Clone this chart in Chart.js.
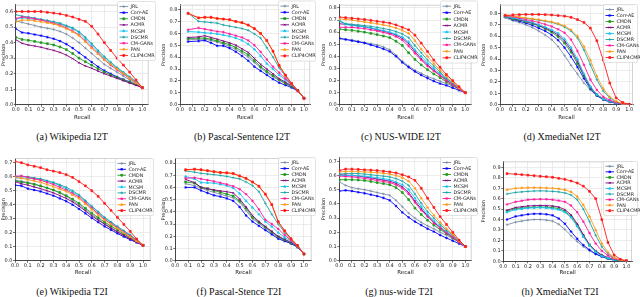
<!DOCTYPE html>
<html>
<head>
<meta charset="utf-8">
<script src="https://cdn.jsdelivr.net/npm/chart.js@4.4.0/dist/chart.umd.min.js"></script>
<style>
  html, body { margin: 0; padding: 0; background: #fff; }
  #wrap { position: relative; width: 640px; height: 297px; overflow: hidden; }
  canvas { position: absolute; }
  .cap { position: absolute; font: 10px "Liberation Serif", "DejaVu Serif", serif; line-height: 10px; color: #111;
         white-space: nowrap; transform: translate(-50%, -50%); }
</style>
</head>
<body>
<div id="wrap"></div>
<script>
// methods, in legend order
const methods = ['JRL', 'Corr-AE', 'CMDN', 'ACMR', 'MCSM', 'DSCMR', 'CM-GANs', 'PAN', 'CLIP4CMR'];
const colors = ['#7b8ca3', '#0000ff', '#1f9a1f', '#800080', '#18c5f0', '#1aa5a5', '#ff1a9c', '#ff9a1a', '#ff1a1a'];
const markers = ['cross', 'star', 'rect', 'crossRot', 'triangle', 'cross', 'star', 'triangle', 'rect'];

const xTicks = [0, 0.1, 0.2, 0.3, 0.4, 0.5, 0.6, 0.7, 0.8, 0.9, 1.0];
const yTicks6 = [0, 0.1, 0.2, 0.3, 0.4, 0.5, 0.6];
const yTicks7 = [0, 0.1, 0.2, 0.3, 0.4, 0.5, 0.6, 0.7];
const yTicks8 = [0, 0.1, 0.2, 0.3, 0.4, 0.5, 0.6, 0.7, 0.8];
const yTicks9 = [0, 0.1, 0.2, 0.3, 0.4, 0.5, 0.6, 0.7, 0.8, 0.9];

// recall points
const recallFull = [0, 0.05, 0.1, 0.15, 0.2, 0.25, 0.3, 0.35, 0.4, 0.45, 0.5, 0.55, 0.6, 0.65, 0.7, 0.75, 0.8, 0.85, 0.9, 0.95, 1.0];
const recallPascalI2T = [0.065, 0.15, 0.2, 0.25, 0.3, 0.35, 0.4, 0.45, 0.5, 0.55, 0.6, 0.65, 0.7, 0.75, 0.8, 0.85, 0.9, 0.95, 1.0];
const recallPascalT2I = [0.08, 0.15, 0.2, 0.25, 0.3, 0.35, 0.4, 0.45, 0.5, 0.55, 0.6, 0.65, 0.7, 0.75, 0.8, 0.85, 0.9, 0.95, 1.0];
const recallXmediaI2T = [0.04, 0.1, 0.15, 0.2, 0.25, 0.3, 0.35, 0.4, 0.45, 0.5, 0.55, 0.6, 0.65, 0.7, 0.75, 0.8, 0.85, 0.9, 0.95, 1.0];
const recallXmediaT2I = [0.03, 0.1, 0.15, 0.2, 0.25, 0.3, 0.35, 0.4, 0.45, 0.5, 0.55, 0.6, 0.65, 0.7, 0.75, 0.8, 0.85, 0.9, 0.95, 1.0];

// precision per method (same order as methods)
const wikiI2T = [
  [0.54,0.53,0.52,0.51,0.50,0.492,0.485,0.472,0.455,0.43,0.40,0.365,0.33,0.295,0.26,0.235,0.21,0.185,0.16,0.135,0.11],
  [0.49,0.465,0.46,0.452,0.445,0.435,0.425,0.41,0.39,0.365,0.335,0.305,0.275,0.245,0.22,0.20,0.18,0.163,0.147,0.13,0.11],
  [0.435,0.42,0.415,0.408,0.40,0.393,0.385,0.372,0.355,0.33,0.30,0.277,0.255,0.232,0.21,0.192,0.175,0.16,0.145,0.13,0.11],
  [0.42,0.395,0.385,0.378,0.37,0.36,0.35,0.337,0.32,0.297,0.27,0.25,0.235,0.217,0.20,0.185,0.17,0.155,0.14,0.125,0.11],
  [0.55,0.56,0.555,0.55,0.545,0.538,0.53,0.52,0.505,0.49,0.465,0.425,0.385,0.342,0.30,0.265,0.235,0.205,0.175,0.145,0.11],
  [0.58,0.57,0.565,0.558,0.55,0.543,0.535,0.525,0.51,0.495,0.47,0.435,0.395,0.35,0.31,0.275,0.24,0.21,0.18,0.15,0.11],
  [0.555,0.565,0.56,0.553,0.545,0.535,0.525,0.512,0.495,0.475,0.45,0.41,0.37,0.33,0.29,0.255,0.225,0.197,0.17,0.14,0.11],
  [0.535,0.545,0.545,0.54,0.535,0.528,0.52,0.507,0.49,0.47,0.445,0.405,0.365,0.327,0.29,0.26,0.23,0.20,0.17,0.14,0.11],
  [0.60,0.60,0.60,0.60,0.60,0.595,0.59,0.585,0.575,0.565,0.55,0.537,0.505,0.455,0.40,0.35,0.30,0.255,0.21,0.16,0.11]
];
const pascalI2T = [
  [0.545,0.55,0.55,0.54,0.525,0.51,0.49,0.465,0.435,0.40,0.355,0.31,0.27,0.235,0.205,0.178,0.15,0.12,0.055],
  [0.53,0.535,0.54,0.52,0.495,0.495,0.475,0.445,0.41,0.37,0.32,0.285,0.25,0.215,0.185,0.165,0.145,0.115,0.055],
  [0.555,0.56,0.56,0.55,0.535,0.52,0.505,0.48,0.45,0.42,0.37,0.32,0.28,0.245,0.21,0.18,0.155,0.12,0.055],
  [0.565,0.57,0.58,0.565,0.55,0.535,0.52,0.50,0.47,0.44,0.39,0.34,0.30,0.26,0.22,0.19,0.16,0.12,0.055],
  [0.615,0.61,0.605,0.60,0.595,0.585,0.575,0.56,0.54,0.51,0.465,0.41,0.345,0.30,0.25,0.21,0.165,0.12,0.055],
  [0.77,0.70,0.695,0.69,0.685,0.67,0.66,0.65,0.64,0.625,0.595,0.56,0.48,0.40,0.31,0.24,0.17,0.12,0.055],
  [0.63,0.645,0.635,0.625,0.615,0.61,0.595,0.58,0.565,0.54,0.50,0.445,0.38,0.32,0.27,0.22,0.17,0.12,0.055],
  [0.765,0.728,0.732,0.732,0.722,0.717,0.712,0.697,0.687,0.667,0.637,0.597,0.537,0.447,0.327,0.247,0.177,0.117,0.055],
  [0.768,0.73,0.735,0.735,0.725,0.72,0.715,0.70,0.69,0.67,0.64,0.60,0.54,0.45,0.33,0.25,0.18,0.12,0.055]
];
const nusI2T = [
  [0.545,0.54,0.535,0.525,0.515,0.505,0.495,0.478,0.455,0.41,0.36,0.32,0.285,0.26,0.235,0.215,0.195,0.175,0.155,0.13,0.10],
  [0.55,0.54,0.53,0.52,0.51,0.495,0.48,0.462,0.44,0.40,0.35,0.31,0.275,0.245,0.22,0.195,0.175,0.16,0.14,0.12,0.10],
  [0.625,0.62,0.615,0.608,0.60,0.59,0.58,0.568,0.555,0.525,0.49,0.43,0.375,0.33,0.29,0.255,0.225,0.19,0.16,0.13,0.10],
  [0.67,0.665,0.66,0.652,0.645,0.633,0.62,0.608,0.595,0.575,0.55,0.505,0.44,0.38,0.33,0.285,0.245,0.205,0.17,0.135,0.10],
  [0.70,0.665,0.655,0.65,0.645,0.635,0.625,0.613,0.60,0.583,0.56,0.52,0.455,0.40,0.345,0.30,0.255,0.215,0.175,0.135,0.10],
  [0.69,0.67,0.665,0.66,0.655,0.648,0.64,0.63,0.62,0.605,0.585,0.555,0.49,0.43,0.37,0.32,0.27,0.22,0.18,0.14,0.10],
  [0.64,0.64,0.64,0.635,0.63,0.62,0.61,0.598,0.585,0.563,0.535,0.485,0.425,0.37,0.32,0.28,0.24,0.20,0.165,0.13,0.10],
  [0.71,0.705,0.70,0.692,0.685,0.678,0.67,0.66,0.65,0.635,0.615,0.59,0.53,0.46,0.40,0.34,0.285,0.235,0.19,0.14,0.10],
  [0.725,0.72,0.715,0.71,0.705,0.698,0.69,0.683,0.675,0.66,0.64,0.62,0.575,0.51,0.44,0.37,0.31,0.25,0.20,0.15,0.10]
];
const xmediaI2T = [
  [0.76,0.735,0.72,0.70,0.675,0.645,0.61,0.57,0.51,0.43,0.345,0.27,0.19,0.13,0.08,0.05,0.03,0.015,0.007,0.003],
  [0.77,0.745,0.73,0.715,0.695,0.67,0.645,0.61,0.565,0.50,0.42,0.33,0.23,0.14,0.08,0.045,0.025,0.012,0.005,0.002],
  [0.77,0.75,0.74,0.725,0.71,0.69,0.665,0.635,0.595,0.54,0.46,0.36,0.25,0.15,0.085,0.05,0.03,0.015,0.006,0.002],
  [0.77,0.755,0.745,0.73,0.715,0.695,0.672,0.645,0.61,0.56,0.48,0.38,0.26,0.155,0.09,0.05,0.03,0.015,0.006,0.002],
  [0.77,0.76,0.75,0.735,0.72,0.70,0.68,0.655,0.625,0.575,0.50,0.40,0.27,0.16,0.09,0.05,0.03,0.015,0.006,0.002],
  [0.78,0.77,0.762,0.755,0.748,0.74,0.73,0.72,0.705,0.68,0.645,0.585,0.48,0.35,0.22,0.12,0.06,0.025,0.01,0.003],
  [0.78,0.77,0.758,0.745,0.733,0.72,0.703,0.685,0.66,0.63,0.57,0.47,0.35,0.22,0.13,0.07,0.04,0.02,0.008,0.003],
  [0.785,0.775,0.768,0.76,0.752,0.745,0.735,0.725,0.71,0.69,0.655,0.60,0.51,0.39,0.25,0.14,0.07,0.03,0.01,0.003],
  [0.78,0.785,0.788,0.79,0.79,0.79,0.788,0.785,0.78,0.775,0.765,0.745,0.72,0.67,0.56,0.39,0.19,0.06,0.02,0.005]
];
const wikiT2I = [
  [0.575,0.568,0.56,0.548,0.535,0.52,0.505,0.485,0.46,0.43,0.40,0.365,0.33,0.297,0.265,0.237,0.21,0.185,0.16,0.135,0.11],
  [0.54,0.535,0.515,0.505,0.495,0.48,0.465,0.445,0.425,0.40,0.37,0.338,0.305,0.275,0.245,0.22,0.195,0.172,0.15,0.13,0.11],
  [0.57,0.562,0.555,0.545,0.535,0.52,0.505,0.487,0.465,0.44,0.41,0.375,0.34,0.307,0.275,0.247,0.22,0.192,0.165,0.138,0.11],
  [0.565,0.55,0.54,0.527,0.515,0.50,0.485,0.465,0.445,0.42,0.39,0.355,0.32,0.29,0.26,0.232,0.205,0.18,0.155,0.132,0.11],
  [0.59,0.592,0.59,0.585,0.58,0.568,0.555,0.537,0.515,0.49,0.465,0.425,0.385,0.345,0.305,0.272,0.24,0.21,0.18,0.145,0.11],
  [0.60,0.605,0.60,0.592,0.585,0.572,0.56,0.543,0.525,0.50,0.47,0.43,0.39,0.35,0.31,0.277,0.245,0.215,0.185,0.148,0.11],
  [0.605,0.605,0.595,0.585,0.575,0.56,0.545,0.525,0.505,0.48,0.455,0.415,0.375,0.335,0.295,0.265,0.235,0.205,0.175,0.143,0.11],
  [0.595,0.59,0.58,0.57,0.56,0.545,0.53,0.513,0.495,0.47,0.445,0.405,0.365,0.327,0.29,0.26,0.23,0.20,0.17,0.14,0.11],
  [0.71,0.70,0.685,0.675,0.665,0.65,0.64,0.63,0.615,0.595,0.565,0.535,0.50,0.46,0.41,0.36,0.31,0.26,0.21,0.155,0.11]
];
const pascalT2I = [
  [0.63,0.615,0.595,0.575,0.56,0.545,0.53,0.515,0.48,0.41,0.345,0.305,0.265,0.225,0.19,0.165,0.14,0.115,0.055],
  [0.60,0.60,0.575,0.555,0.535,0.525,0.51,0.49,0.44,0.37,0.32,0.285,0.25,0.215,0.18,0.16,0.14,0.11,0.055],
  [0.645,0.635,0.60,0.59,0.575,0.56,0.545,0.53,0.49,0.43,0.355,0.315,0.275,0.235,0.195,0.17,0.145,0.115,0.055],
  [0.665,0.64,0.60,0.59,0.58,0.572,0.565,0.555,0.505,0.44,0.37,0.32,0.28,0.24,0.20,0.175,0.15,0.12,0.055],
  [0.69,0.67,0.64,0.638,0.635,0.625,0.615,0.595,0.55,0.49,0.435,0.38,0.32,0.28,0.23,0.19,0.16,0.12,0.055],
  [0.735,0.725,0.715,0.71,0.705,0.698,0.69,0.68,0.67,0.645,0.615,0.565,0.47,0.38,0.30,0.23,0.17,0.12,0.055],
  [0.675,0.68,0.67,0.66,0.65,0.638,0.625,0.61,0.585,0.545,0.49,0.42,0.335,0.30,0.26,0.21,0.165,0.12,0.055],
  [0.742,0.747,0.742,0.735,0.727,0.72,0.717,0.712,0.692,0.672,0.642,0.607,0.542,0.457,0.317,0.242,0.177,0.122,0.055],
  [0.745,0.75,0.745,0.738,0.73,0.723,0.72,0.715,0.695,0.675,0.645,0.61,0.545,0.46,0.32,0.245,0.18,0.125,0.055]
];
const nusT2I = [
  [0.555,0.53,0.515,0.507,0.50,0.49,0.48,0.47,0.46,0.425,0.38,0.335,0.30,0.27,0.245,0.225,0.20,0.18,0.155,0.13,0.10],
  [0.49,0.495,0.49,0.482,0.475,0.465,0.455,0.442,0.425,0.385,0.34,0.305,0.275,0.25,0.225,0.205,0.18,0.16,0.14,0.12,0.10],
  [0.57,0.57,0.57,0.568,0.565,0.558,0.55,0.543,0.535,0.515,0.48,0.43,0.37,0.325,0.285,0.25,0.22,0.19,0.16,0.13,0.10],
  [0.605,0.603,0.60,0.595,0.59,0.583,0.575,0.568,0.56,0.545,0.52,0.48,0.42,0.365,0.315,0.27,0.235,0.20,0.17,0.135,0.10],
  [0.60,0.60,0.60,0.598,0.595,0.59,0.585,0.578,0.57,0.555,0.535,0.50,0.44,0.38,0.325,0.28,0.24,0.205,0.17,0.135,0.10],
  [0.61,0.613,0.615,0.613,0.61,0.605,0.60,0.595,0.59,0.578,0.56,0.53,0.47,0.405,0.345,0.30,0.255,0.215,0.18,0.14,0.10],
  [0.595,0.593,0.59,0.585,0.58,0.573,0.565,0.558,0.55,0.535,0.51,0.47,0.41,0.355,0.31,0.265,0.23,0.195,0.165,0.13,0.10],
  [0.625,0.628,0.63,0.628,0.625,0.623,0.62,0.615,0.61,0.60,0.585,0.56,0.51,0.44,0.375,0.32,0.27,0.225,0.185,0.14,0.10],
  [0.635,0.645,0.645,0.643,0.64,0.638,0.635,0.63,0.625,0.618,0.605,0.59,0.565,0.51,0.44,0.375,0.31,0.255,0.20,0.145,0.10]
];
const xmediaT2I = [
  [0.35,0.375,0.385,0.395,0.40,0.40,0.395,0.385,0.355,0.305,0.245,0.19,0.14,0.10,0.07,0.045,0.025,0.012,0.006,0.002],
  [0.40,0.43,0.44,0.45,0.455,0.455,0.45,0.44,0.41,0.36,0.285,0.215,0.155,0.11,0.07,0.045,0.025,0.012,0.006,0.002],
  [0.48,0.505,0.51,0.515,0.518,0.52,0.518,0.515,0.505,0.48,0.43,0.345,0.245,0.155,0.095,0.055,0.03,0.015,0.006,0.002],
  [0.49,0.515,0.523,0.53,0.533,0.535,0.533,0.53,0.52,0.495,0.445,0.36,0.255,0.16,0.10,0.06,0.035,0.018,0.008,0.003],
  [0.47,0.495,0.503,0.51,0.513,0.515,0.512,0.505,0.495,0.47,0.42,0.335,0.235,0.15,0.09,0.05,0.03,0.015,0.006,0.002],
  [0.645,0.66,0.665,0.67,0.673,0.675,0.673,0.67,0.665,0.655,0.635,0.59,0.50,0.38,0.25,0.14,0.07,0.03,0.01,0.003],
  [0.545,0.57,0.58,0.59,0.593,0.595,0.594,0.59,0.582,0.57,0.535,0.47,0.38,0.27,0.17,0.10,0.055,0.025,0.01,0.003],
  [0.685,0.70,0.703,0.705,0.706,0.705,0.703,0.70,0.695,0.685,0.665,0.62,0.54,0.43,0.30,0.17,0.085,0.035,0.012,0.003],
  [0.84,0.835,0.83,0.825,0.82,0.815,0.81,0.805,0.795,0.785,0.77,0.75,0.72,0.67,0.60,0.40,0.18,0.06,0.02,0.005]
];

// panel layout: plot box in panel pixels, axis limits, legend box, caption
const panels = [
  { rec: recallFull, val: wikiI2T, yt: yTicks6, col: 0, row: 0, L: 15.7, R: 148.7, T: 1.2, B: 104.3, xmax: 1.05, ymax: 0.644,
    leg: [117, 1, 38, 59], cap: '(a) Wikipedia I2T', capX: 72 },
  { rec: recallPascalI2T, val: pascalI2T, yt: yTicks8, col: 1, row: 0, L: 20, R: 150.2, T: 1.8, B: 104.3, xmax: 1.05, ymax: 0.84,
    leg: [118, 0.5, 37, 60], cap: '(b) Pascal-Sentence I2T', capX: 82 },
  { rec: recallFull, val: nusI2T, yt: yTicks8, col: 2, row: 0, L: 19.3, R: 151.6, T: 2, B: 104.3, xmax: 1.05, ymax: 0.827,
    leg: [120, 0.5, 37, 62], cap: '(c) NUS-WIDE I2T', capX: 81 },
  { rec: recallXmediaI2T, val: xmediaI2T, yt: yTicks8, col: 3, row: 0, L: 20, R: 153, T: 3, B: 104.3, xmax: 1.03, ymax: 0.875,
    leg: [123, 4, 34, 58], cap: '(d) XmediaNet I2T', capX: 82 },
  { rec: recallFull, val: wikiT2I, yt: yTicks7, col: 0, row: 1, L: 15, R: 150.7, T: 10, B: 112.7, xmax: 1.06, ymax: 0.734,
    leg: [115, 10, 38, 57], cap: '(e) Wikipedia T2I', capX: 72 },
  { rec: recallPascalT2I, val: pascalT2I, yt: yTicks8, col: 1, row: 1, L: 15.3, R: 151.7, T: 10, B: 112.7, xmax: 1.06, ymax: 0.841,
    leg: [118, 9, 37, 58], cap: '(f) Pascal-Stence T2I', capX: 79 },
  { rec: recallFull, val: nusT2I, yt: yTicks7, col: 2, row: 1, L: 19.3, R: 151.7, T: 9.3, B: 112.7, xmax: 1.05, ymax: 0.728,
    leg: [120, 9, 37, 58], cap: '(g) nus-wide T2I', capX: 79 },
  { rec: recallXmediaT2I, val: xmediaT2I, yt: yTicks9, col: 3, row: 1, L: 23.3, R: 152, T: 13.3, B: 113.3, xmax: 1.045, ymax: 0.958,
    leg: [123, 13, 34, 54], cap: '(h) XmediaNet T2I', capX: 80 }
];

Chart.defaults.font.family = '"DejaVu Sans", sans-serif';
Chart.defaults.font.size = 5;
Chart.defaults.color = '#222';

// legend drawn inside the axes like matplotlib, plus light top/right frame
const boxLegend = {
  id: 'boxLegend',
  afterDraw(chart, args, opts) {
    const ctx = chart.ctx;
    const a = chart.chartArea;
    ctx.save();
    ctx.strokeStyle = '#c8c8c8';
    ctx.lineWidth = 0.8;
    ctx.beginPath();
    ctx.moveTo(a.left, a.top + 0.5); ctx.lineTo(a.right, a.top + 0.5);
    ctx.moveTo(a.right - 0.5, a.top); ctx.lineTo(a.right - 0.5, a.bottom);
    ctx.stroke();

    const [x, y, w, h] = opts.box;
    ctx.fillStyle = 'rgba(255,255,255,0.85)';
    ctx.strokeStyle = '#cfcfcf';
    ctx.lineWidth = 0.6;
    ctx.beginPath();
    ctx.roundRect(x + 0.5, y + 0.5, w, h, 1.5);
    ctx.fill();
    ctx.stroke();
    const rowH = (h - 4) / methods.length;
    ctx.font = '4.8px "DejaVu Sans", sans-serif';
    ctx.textBaseline = 'middle';
    methods.forEach((m, k) => {
      const cy = y + 2.5 + rowH * (k + 0.5);
      ctx.strokeStyle = colors[k];
      ctx.fillStyle = colors[k];
      ctx.lineWidth = 0.9;
      ctx.beginPath();
      ctx.moveTo(x + 2.5, cy); ctx.lineTo(x + 11, cy);
      ctx.stroke();
      Chart.helpers.drawPoint(ctx, { pointStyle: markers[k], rotation: 0, radius: 1.3, borderWidth: 0.7 }, x + 6.75, cy);
      ctx.fillStyle = '#222';
      ctx.fillText(m, x + 13.5, cy + 0.3);
    });
    ctx.restore();
  }
};

const wrap = document.getElementById('wrap');

panels.forEach(p => {
  const W = 160;
  const H = p.row === 0 ? 120.5 : 128;
  const cv = document.createElement('canvas');
  cv.width = W; cv.height = Math.round(H);
  cv.style.left = (p.col * 160) + 'px';
  cv.style.top = (p.row * 148) + 'px';
  wrap.appendChild(cv);

  const cap = document.createElement('div');
  cap.className = 'cap';
  cap.textContent = p.cap;
  cap.style.left = (p.col * 160 + p.capX) + 'px';
  cap.style.top = (p.row === 0 ? 136.5 : 291.5) + 'px';
  wrap.appendChild(cap);

  const datasets = methods.map((m, k) => ({
    label: m,
    data: p.rec.map((r, j) => ({ x: r, y: p.val[k][j] })),
    borderColor: colors[k],
    backgroundColor: colors[k],
    pointStyle: markers[k],
    pointRadius: 1.3,
    pointBorderWidth: 0.7,
    borderWidth: 0.9,
    tension: 0,
    order: methods.length - k
  }));

  new Chart(cv.getContext('2d'), {
    type: 'line',
    data: { datasets },
    plugins: [boxLegend],
    options: {
      responsive: false,
      animation: false,
      devicePixelRatio: 1,
      layout: { padding: { left: 0, top: p.T, right: W - p.R, bottom: 0 } },
      plugins: {
        legend: { display: false },
        tooltip: { enabled: false },
        boxLegend: { box: p.leg }
      },
      scales: {
        x: {
          type: 'linear', min: 0, max: p.xmax,
          afterBuildTicks: s => { s.ticks = xTicks.map(v => ({ value: v })); },
          afterFit: s => { s.height = H - p.B; s.paddingLeft = 0; s.paddingRight = 0; },
          ticks: { callback: v => v.toFixed(1), padding: 0, maxRotation: 0, autoSkip: false, font: { size: 5 } },
          grid: { color: '#e4e4e4', lineWidth: 0.7, tickLength: 2, tickColor: '#333' },
          border: { display: true, color: '#333', width: 0.9 },
          title: { display: true, text: 'Recall', padding: 0, font: { size: 5.5 } }
        },
        y: {
          type: 'linear', min: 0, max: p.ymax,
          afterBuildTicks: s => { s.ticks = p.yt.map(v => ({ value: v })); },
          afterFit: s => { s.width = p.L; s.paddingTop = 0; s.paddingBottom = 0; },
          ticks: { callback: v => v.toFixed(1), padding: 0.5, autoSkip: false, font: { size: 5 } },
          grid: { color: '#e4e4e4', lineWidth: 0.7, tickLength: 2, tickColor: '#333' },
          border: { display: true, color: '#333', width: 0.9 },
          title: { display: true, text: 'Precision', padding: 0.5, font: { size: 5 } }
        }
      }
    }
  });
});
</script>
</body>
</html>
